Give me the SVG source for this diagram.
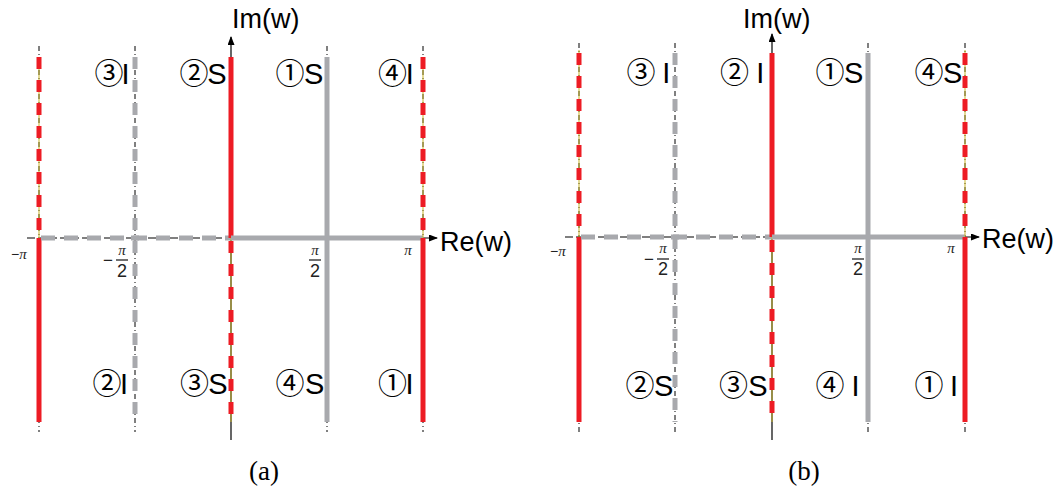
<svg xmlns="http://www.w3.org/2000/svg" width="1063" height="492" viewBox="0 0 1063 492">
<style>
.g{fill:none;stroke:#000;stroke-width:1;stroke-dasharray:5 3 1 3}
.ax{stroke:#000;stroke-width:1.2;fill:none}
.axd{stroke:#000;stroke-width:1.2;stroke-dasharray:8 3;fill:none}
.r{stroke:#ed1c24;stroke-width:5;fill:none}
.gr{stroke:#a8a9ad;stroke-width:5;fill:none}
.d{stroke-dasharray:12 11}
.hd{stroke-dasharray:14 9}
.y{stroke:#c9b52a;stroke-width:1;fill:none}
.lab{font-family:"Liberation Sans",Arial,sans-serif;font-size:29px;fill:#000}
.cd{font-family:"Noto Sans CJK JP","Noto Sans CJK SC",sans-serif;font-size:29px;letter-spacing:-4px}
.ax-t{font-family:"Liberation Sans",Arial,sans-serif;font-size:27px;fill:#000}
.pi{font-family:"Liberation Serif","DejaVu Serif",serif;font-style:italic;font-size:15px;fill:#222}
.mn{font-family:"Liberation Sans",Arial,sans-serif;font-size:14px;fill:#222}
.mn2{font-family:"Liberation Sans",Arial,sans-serif;font-size:17px;fill:#222}
.two{font-family:"Liberation Sans",Arial,sans-serif;font-size:18px;fill:#222;text-anchor:middle}
.cap{font-family:"Liberation Serif","DejaVu Serif",serif;font-size:27px;fill:#000;text-anchor:middle}
</style>
<defs>
<marker id="arr" markerWidth="9" markerHeight="7" refX="8" refY="3.5" orient="auto" markerUnits="userSpaceOnUse">
<path d="M0,0 L9,3.5 L0,7 z" fill="#000"/>
</marker>
</defs>

<!-- Panel (a) -->
<g id="panel-a-connectors">
<line class="g" x1="39" y1="46" x2="39" y2="432"/>
<line class="g" x1="135" y1="46" x2="135" y2="432"/>
<line class="g" x1="327" y1="46" x2="327" y2="432"/>
<line class="g" x1="423" y1="46" x2="423" y2="432"/>
<line class="axd" x1="27" y1="238" x2="231" y2="238"/>
<line class="ax" x1="231" y1="238" x2="437" y2="238" marker-end="url(#arr)"/>
<line class="ax" x1="231" y1="440" x2="231" y2="37" marker-end="url(#arr)"/>
<line class="y" x1="39" y1="57" x2="39" y2="238"/>
<line class="r d" x1="39" y1="57" x2="39" y2="238"/>
<line class="r" x1="39" y1="238" x2="39" y2="422"/>
<line class="gr d" x1="135" y1="57" x2="135" y2="422"/>
<line class="gr hd" x1="41" y1="238" x2="231" y2="238"/>
<line class="gr" x1="131" y1="238" x2="139" y2="238"/>
<line class="r" x1="231" y1="57" x2="231" y2="238"/>
<line class="y" x1="231" y1="238" x2="231" y2="422"/>
<line class="r d" x1="231" y1="241" x2="231" y2="422"/>
<line class="gr" x1="231" y1="238" x2="423" y2="238"/>
<line class="gr" x1="327" y1="57" x2="327" y2="422"/>
<line class="y" x1="423" y1="57" x2="423" y2="238"/>
<line class="r d" x1="423" y1="57" x2="423" y2="238"/>
<line class="r" x1="423" y1="238" x2="423" y2="422"/>
</g>
<g id="panel-a-labels">
<text class="ax-t" x="232" y="28">Im(w)</text>
<text class="ax-t" x="440" y="251">Re(w)</text>
<text class="mn" x="11" y="259">−<tspan class="pi">π</tspan></text>
<text class="mn2" x="103" y="266">−</text>
<text class="pi" x="122" y="255" text-anchor="middle">π</text>
<line x1="116" y1="260" x2="128" y2="260" stroke="#222" stroke-width="1.3"/>
<text class="two" x="122" y="277">2</text>
<text class="pi" x="315" y="255" text-anchor="middle">π</text>
<line x1="309" y1="260" x2="321" y2="260" stroke="#222" stroke-width="1.3"/>
<text class="two" x="315" y="277">2</text>
<text class="pi" x="408" y="255" text-anchor="middle">π</text>
<text class="cap" x="264" y="480">(a)</text>
</g>
<g id="a-q3-top"><text class="lab"><tspan class="cd" x="94.5" y="84">③</tspan><tspan x="121.6" y="84">I</tspan></text></g>
<g id="a-q2-top"><text class="lab"><tspan class="cd" x="179.5" y="84">②</tspan><tspan x="207.3" y="84">S</tspan></text></g>
<g id="a-q1-top"><text class="lab"><tspan class="cd" x="275.5" y="84">①</tspan><tspan x="304" y="84">S</tspan></text></g>
<g id="a-q4-top"><text class="lab"><tspan class="cd" x="378" y="84">④</tspan><tspan x="405.8" y="84">I</tspan></text></g>
<g id="a-q2-bot"><text class="lab"><tspan class="cd" x="92.5" y="393.5">②</tspan><tspan x="120" y="393.5">I</tspan></text></g>
<g id="a-q3-bot"><text class="lab"><tspan class="cd" x="180" y="393.5">③</tspan><tspan x="208.3" y="393.5">S</tspan></text></g>
<g id="a-q4-bot"><text class="lab"><tspan class="cd" x="275.5" y="393.5">④</tspan><tspan x="305" y="393.5">S</tspan></text></g>
<g id="a-q1-bot"><text class="lab"><tspan class="cd" x="378" y="393.5">①</tspan><tspan x="405.6" y="393.5">I</tspan></text></g>

<!-- Panel (b) -->
<g id="panel-b-connectors">
<line class="g" x1="579" y1="43" x2="579" y2="432"/>
<line class="g" x1="675" y1="43" x2="675" y2="432"/>
<line class="g" x1="868" y1="43" x2="868" y2="432"/>
<line class="g" x1="965" y1="43" x2="965" y2="432"/>
<line class="axd" x1="565" y1="237" x2="772" y2="237"/>
<line class="ax" x1="772" y1="237" x2="979" y2="237" marker-end="url(#arr)"/>
<line class="ax" x1="772" y1="440" x2="772" y2="34" marker-end="url(#arr)"/>
<line class="y" x1="579" y1="50" x2="579" y2="237"/>
<line class="r d" x1="579" y1="53" x2="579" y2="237"/>
<line class="r" x1="579" y1="237" x2="579" y2="422"/>
<line class="gr d" x1="675" y1="53" x2="675" y2="422"/>
<line class="gr hd" x1="581" y1="237" x2="772" y2="237"/>
<line class="gr" x1="671" y1="237" x2="679" y2="237"/>
<line class="r" x1="772" y1="53" x2="772" y2="237"/>
<line class="y" x1="772" y1="237" x2="772" y2="422"/>
<line class="r d" x1="772" y1="240" x2="772" y2="422"/>
<line class="gr" x1="772" y1="237" x2="965" y2="237"/>
<line class="gr" x1="868" y1="53" x2="868" y2="422"/>
<line class="y" x1="965" y1="50" x2="965" y2="237"/>
<line class="r d" x1="965" y1="53" x2="965" y2="237"/>
<line class="r" x1="965" y1="237" x2="965" y2="422"/>
</g>
<g id="panel-b-labels">
<text class="ax-t" x="743" y="28">Im(w)</text>
<text class="ax-t" x="982" y="248">Re(w)</text>
<text class="mn" x="550" y="256">−<tspan class="pi">π</tspan></text>
<text class="mn2" x="644" y="265">−</text>
<text class="pi" x="663" y="253" text-anchor="middle">π</text>
<line x1="657" y1="259" x2="669" y2="259" stroke="#222" stroke-width="1.3"/>
<text class="two" x="663" y="275">2</text>
<text class="pi" x="858" y="253" text-anchor="middle">π</text>
<line x1="852" y1="259" x2="864" y2="259" stroke="#222" stroke-width="1.3"/>
<text class="two" x="858" y="275">2</text>
<text class="pi" x="951" y="253" text-anchor="middle">π</text>
<text class="cap" x="804" y="480">(b)</text>
</g>
<g id="b-q3-top"><text class="lab"><tspan class="cd" x="626.5" y="83">③</tspan><tspan x="654.2" y="83"> I</tspan></text></g>
<g id="b-q2-top"><text class="lab"><tspan class="cd" x="720" y="83">②</tspan><tspan x="748.2" y="83"> I</tspan></text></g>
<g id="b-q1-top"><text class="lab"><tspan class="cd" x="815.5" y="83">①</tspan><tspan x="844" y="83">S</tspan></text></g>
<g id="b-q4-top"><text class="lab"><tspan class="cd" x="914.5" y="83">④</tspan><tspan x="943" y="83">S</tspan></text></g>
<g id="b-q2-bot"><text class="lab"><tspan class="cd" x="625.5" y="396">②</tspan><tspan x="654" y="396">S</tspan></text></g>
<g id="b-q3-bot"><text class="lab"><tspan class="cd" x="719" y="396">③</tspan><tspan x="748.3" y="396">S</tspan></text></g>
<g id="b-q4-bot"><text class="lab"><tspan class="cd" x="815.5" y="396">④</tspan><tspan x="843.5" y="396"> I</tspan></text></g>
<g id="b-q1-bot"><text class="lab"><tspan class="cd" x="914.5" y="396">①</tspan><tspan x="941.9" y="396"> I</tspan></text></g>
</svg>
